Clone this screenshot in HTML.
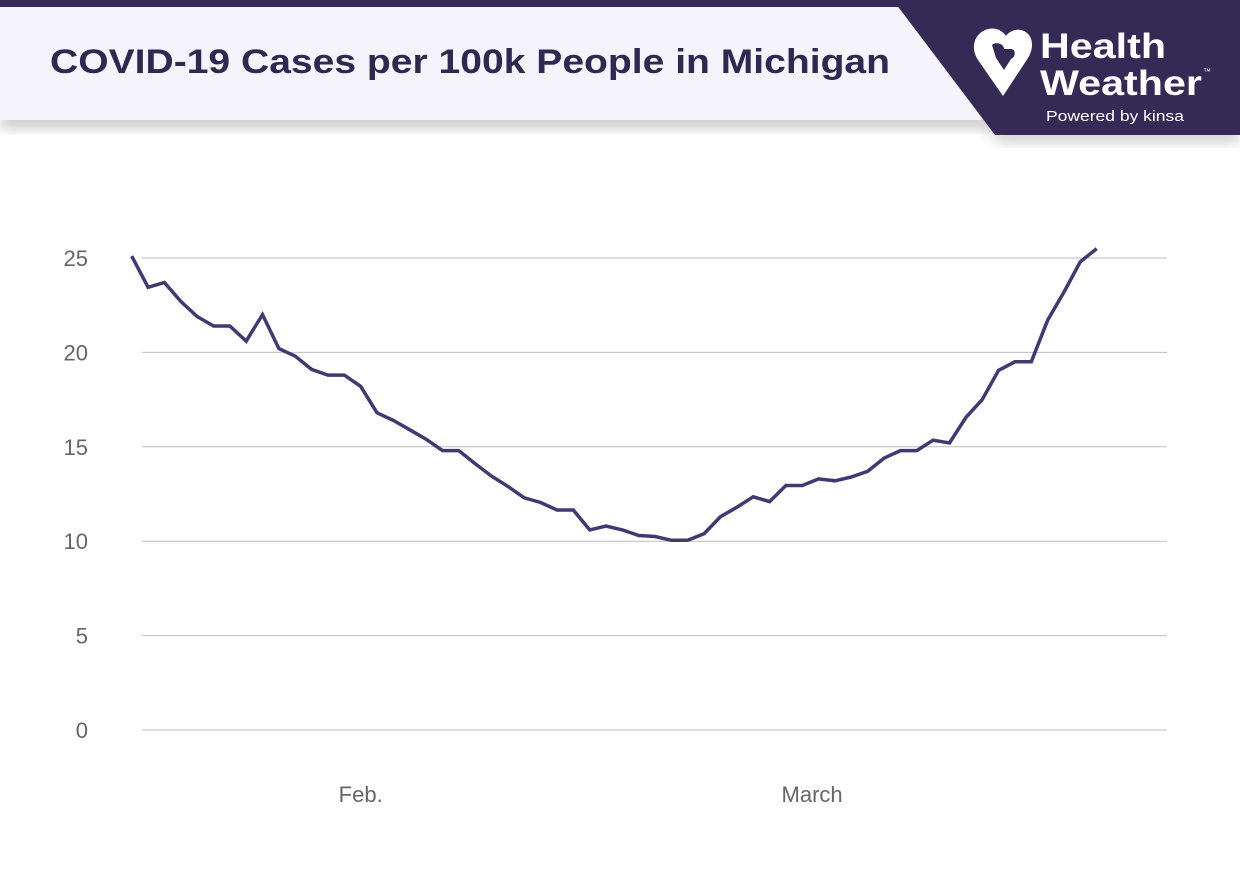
<!DOCTYPE html>
<html><head><meta charset="utf-8">
<style>
body{margin:0;width:1240px;height:872px;background:#fff;overflow:hidden;font-family:"Liberation Sans",sans-serif;}
#wrap{position:relative;width:1240px;height:872px;}
</style></head>
<body><div id="wrap">
<svg width="1240" height="872" viewBox="0 0 1240 872">
<defs>
<filter id="sh" x="-5%" y="-20%" width="110%" height="160%"><feGaussianBlur stdDeviation="7"/></filter>
</defs>
<g>
<rect x="0" y="112" width="1000" height="16" fill="#000" opacity="0.22" filter="url(#sh)"/>
<rect x="0" y="0" width="1240" height="120" fill="#f5f4fd"/>
<rect x="0" y="0" width="1240" height="7" fill="#352a55"/>
<polygon points="985,128 1240,128 1240,142 1000,142" fill="#000" opacity="0.2" filter="url(#sh)"/>
<polygon points="893,0 1240,0 1240,135 995,135" fill="#352a55"/>
<text x="50" y="73" font-size="34" font-weight="bold" fill="#2f2850" textLength="840" lengthAdjust="spacingAndGlyphs">COVID-19 Cases per 100k People in Michigan</text>
<path d="M1003,96 L978,60 C970,48 974,33 988,29 C996,27 1003,31 1006,36 C1010,30 1020,27 1027,33 C1034,39 1033,50 1028,58 Z" fill="#fff"/>
<path d="M992,45 C996,41 1004,44 1004,49 L1011,49 C1016,49 1016,57 1011,59 L1004,70 L996,58 Z" fill="#352a55"/>
<text x="1040" y="58" font-size="35" font-weight="bold" fill="#fff" textLength="126" lengthAdjust="spacingAndGlyphs">Health</text>
<text x="1040" y="95" font-size="35" font-weight="bold" fill="#fff" textLength="162" lengthAdjust="spacingAndGlyphs">Weather</text>
<text x="1203" y="74" font-size="8" fill="#fff">™</text>
<text x="1046" y="121" font-size="15" fill="#fff" textLength="138" lengthAdjust="spacingAndGlyphs">Powered by kinsa</text>
</g>
<g id="grid"></g>
<g id="ylab"></g>
<g id="xlab"></g>
<path id="line" fill="none" stroke="#433872" stroke-width="3.5" stroke-linejoin="miter"/>
</svg>
</div>
<script>
const yTicks=[0,5,10,15,20,25];
const cases=[25.1,23.45,23.7,22.7,21.9,21.4,21.4,20.6,22.0,20.2,19.8,19.1,18.8,18.8,18.2,16.8,16.4,15.9,15.4,14.8,14.8,14.1,13.45,12.9,12.3,12.05,11.65,11.65,10.6,10.8,10.6,10.3,10.25,10.05,10.05,10.4,11.3,11.8,12.35,12.1,12.95,12.95,13.3,13.2,13.4,13.7,14.4,14.8,14.8,15.35,15.2,16.55,17.5,19.05,19.5,19.5,21.7,23.2,24.8,25.5];
const monthLabels=["Feb.","March"];
const monthIdx=[14,41.6];
const ns="http://www.w3.org/2000/svg";
const x=i=>131.7+i*(965/59);
const y=v=>730-v*(730-258)/25;
const grid=document.getElementById('grid'),yl=document.getElementById('ylab'),xl=document.getElementById('xlab');
yTicks.forEach(t=>{
 const l=document.createElementNS(ns,'line');
 l.setAttribute('x1',142);l.setAttribute('x2',1167);l.setAttribute('y1',y(t));l.setAttribute('y2',y(t));
 l.setAttribute('stroke','#bdbdbd');l.setAttribute('stroke-width','1');
 
 
 grid.appendChild(l);
 const tx=document.createElementNS(ns,'text');
 tx.setAttribute('x',88);tx.setAttribute('y',y(t)+8);tx.setAttribute('text-anchor','end');
 tx.setAttribute('font-size','22');tx.setAttribute('fill','#666');tx.textContent=t;
 
 
 yl.appendChild(tx);
});
monthLabels.forEach((m,k)=>{
 const tx=document.createElementNS(ns,'text');
 tx.setAttribute('x',x(monthIdx[k]));tx.setAttribute('y',802);tx.setAttribute('text-anchor','middle');
 tx.setAttribute('font-size','22');tx.setAttribute('fill','#666');tx.textContent=m;
 
 
 xl.appendChild(tx);
});
document.getElementById('line').setAttribute('d',cases.map((v,i)=>(i?'L':'M')+x(i).toFixed(1)+','+y(v).toFixed(1)).join(' '));
</script>
</body></html>
